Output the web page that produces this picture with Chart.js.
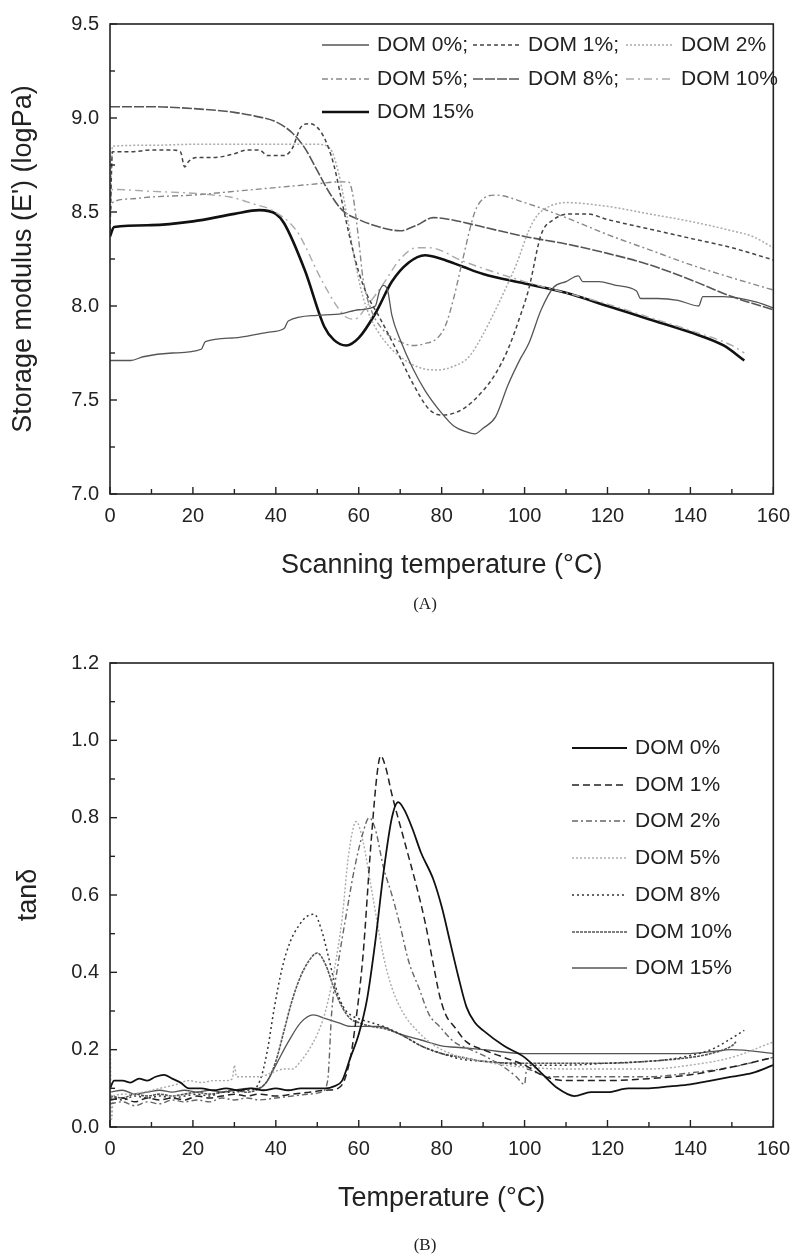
<!DOCTYPE html>
<html>
<head>
<meta charset="utf-8">
<script src="https://cdn.jsdelivr.net/npm/chart.js@4.4.0/dist/chart.umd.min.js"></script>
<style>
  body { margin: 0; background: #fff; width: 800px; height: 1258px; position: relative; overflow: hidden; }
  .box { position: absolute; left: 0; width: 800px; }
  .cap { position: absolute; width: 800px; text-align: center; font-family: "Liberation Serif", "Times New Roman", serif; font-size: 17px; color: #222; }
</style>
</head>
<body>
<div class="box" style="top:0;height:640px"><canvas id="chartA" width="800" height="640"></canvas></div>
<div class="cap" style="top:594px;left:25px">(A)</div>
<div class="box" style="top:640px;height:618px"><canvas id="chartB" width="800" height="618"></canvas></div>
<div class="cap" style="top:1235px;left:25px">(B)</div>
<script>
// ---- (A) storage modulus E' (logPa), pairs of [temperature, value] ----
const eDom0 = [[0,7.71],[5,7.71],[8,7.73],[15,7.75],[22,7.77],[23,7.81],[30,7.83],[38,7.86],[42,7.88],[43,7.92],[50,7.95],[56,7.96],[60,7.98],[64,8.00],[65,8.08],[66,8.11],[67,8.08],[68,7.95],[70,7.82],[73,7.67],[76,7.55],[80,7.43],[83,7.36],[86,7.33],[88,7.32],[90,7.35],[93,7.41],[96,7.58],[99,7.72],[101,7.80],[104,7.98],[107,8.10],[110,8.13],[113,8.16],[114,8.13],[118,8.13],[122,8.11],[127,8.08],[128,8.04],[132,8.04],[137,8.03],[142,8.00],[143,8.05],[148,8.05],[152,8.04],[156,8.02],[160,7.99]];
const eDom1 = [[0,8.40],[0.6,8.82],[5,8.82],[10,8.83],[15,8.83],[17,8.82],[18,8.74],[19,8.77],[21,8.79],[25,8.79],[30,8.81],[33,8.83],[36,8.83],[38,8.80],[42,8.80],[44,8.84],[46,8.95],[48,8.97],[50,8.95],[52,8.88],[54,8.75],[56,8.55],[58,8.35],[60,8.18],[62,8.06],[65,7.94],[69,7.77],[73,7.59],[77,7.45],[80,7.42],[85,7.45],[90,7.55],[93,7.64],[96,7.77],[99,7.95],[101,8.09],[104,8.38],[107,8.46],[111,8.49],[115,8.49],[120,8.46],[130,8.41],[140,8.36],[150,8.31],[160,8.245]];
const eDom2 = [[0,8.45],[0.6,8.85],[10,8.855],[20,8.86],[30,8.86],[40,8.86],[50,8.86],[53,8.84],[55,8.72],[57,8.50],[59,8.25],[61,8.05],[63,7.93],[66,7.82],[70,7.73],[75,7.67],[79,7.66],[83,7.68],[86.6,7.73],[90,7.85],[93,7.98],[96,8.12],[98,8.22],[101,8.40],[103,8.48],[106,8.53],[110,8.55],[120,8.53],[130,8.49],[140,8.45],[150,8.40],[155,8.37],[160,8.31]];
const eDom5 = [[0,8.50],[0.6,8.55],[5,8.57],[10,8.58],[20,8.59],[30,8.61],[40,8.63],[50,8.65],[55,8.66],[57.5,8.66],[58.5,8.60],[60,8.35],[61,8.15],[63,7.98],[66,7.87],[70,7.81],[73,7.79],[76,7.80],[79,7.83],[81,7.90],[83,8.05],[85,8.24],[88,8.50],[90,8.57],[93,8.59],[100,8.55],[110,8.47],[120,8.38],[130,8.30],[140,8.22],[150,8.15],[160,8.085]];
const eDom8 = [[0,9.06],[10,9.06],[20,9.05],[30,9.03],[35,9.01],[40,8.98],[44,8.92],[47,8.84],[50,8.72],[53,8.60],[56,8.51],[60,8.46],[65,8.42],[70,8.40],[74,8.43],[78,8.47],[82,8.46],[90,8.42],[100,8.37],[110,8.33],[120,8.28],[130,8.22],[140,8.14],[150,8.05],[160,7.98]];
const eDom10 = [[0,8.55],[0.6,8.62],[10,8.61],[20,8.60],[25,8.59],[29,8.58],[35,8.54],[39,8.51],[45,8.40],[51,8.14],[55,7.99],[57,7.94],[59,7.93],[62,8.00],[66,8.12],[70,8.25],[74,8.31],[77,8.31],[85,8.24],[90,8.20],[100,8.13],[110,8.07],[120,8.01],[130,7.94],[140,7.87],[150,7.79],[153,7.75]];
const eDom15 = [[0,8.37],[1,8.42],[10,8.43],[20,8.45],[30,8.49],[36,8.51],[40,8.49],[42,8.44],[47,8.19],[51.7,7.89],[54,7.82],[57,7.79],[60,7.83],[64,7.96],[68,8.13],[72,8.23],[76,8.27],[80,8.25],[85,8.21],[90,8.17],[100,8.12],[110,8.07],[120,8.00],[130,7.93],[140,7.86],[148,7.79],[153,7.71]];

// ---- (B) tan delta, pairs of [temperature, value] ----
const tDom0 = [[0,0.10],[1,0.12],[3,0.12],[5,0.115],[7,0.125],[9,0.12],[11,0.13],[13,0.135],[15,0.125],[17,0.115],[19,0.10],[22,0.10],[25,0.095],[28,0.10],[31,0.095],[34,0.10],[37,0.095],[40,0.10],[43,0.095],[46,0.10],[49,0.10],[52,0.10],[54,0.105],[56,0.12],[58,0.18],[60,0.24],[62,0.33],[64,0.48],[66,0.66],[68,0.80],[69.5,0.84],[71,0.82],[73,0.77],[75,0.71],[78,0.64],[80,0.57],[82,0.48],[84,0.39],[86,0.31],[88,0.27],[90,0.25],[95,0.21],[100,0.18],[104,0.14],[108,0.10],[112,0.08],[116,0.09],[120,0.09],[125,0.10],[130,0.10],[135,0.105],[140,0.11],[145,0.12],[150,0.13],[155,0.14],[160,0.16]];
const tDom1 = [[0,0.07],[3,0.075],[6,0.065],[9,0.075],[12,0.07],[15,0.075],[18,0.07],[21,0.08],[24,0.075],[27,0.08],[30,0.085],[33,0.08],[36,0.085],[40,0.08],[44,0.085],[48,0.09],[52,0.095],[55,0.10],[56.5,0.12],[58,0.18],[59,0.25],[61,0.44],[63,0.74],[64.5,0.92],[65.3,0.96],[66.5,0.93],[68,0.86],[71,0.74],[74,0.62],[76,0.53],[78,0.42],[79.5,0.34],[81,0.29],[83,0.26],[86,0.22],[90,0.20],[95,0.18],[100,0.16],[105,0.13],[110,0.12],[120,0.12],[130,0.125],[140,0.135],[150,0.155],[160,0.18]];
const tDom2 = [[0,0.06],[3,0.065],[6,0.055],[9,0.065],[12,0.06],[15,0.07],[18,0.065],[21,0.07],[24,0.065],[27,0.075],[30,0.07],[33,0.075],[36,0.07],[40,0.075],[44,0.08],[48,0.085],[51,0.09],[52.5,0.12],[53.5,0.30],[55,0.42],[57,0.55],[59,0.67],[61,0.76],[62.5,0.80],[64,0.77],[66,0.67],[68,0.60],[70,0.52],[72,0.43],[74.5,0.36],[77,0.29],[79.5,0.26],[83,0.22],[87,0.20],[91,0.18],[95,0.155],[98,0.13],[100,0.11],[100.5,0.15],[103,0.14],[106,0.13],[110,0.13],[120,0.13],[130,0.13],[140,0.14],[150,0.155],[160,0.18]];
const tDom5 = [[0,0.25],[0.4,0.02],[0.8,0.08],[4,0.085],[8,0.09],[12,0.10],[16,0.11],[19,0.12],[22,0.115],[25,0.12],[28,0.12],[29.5,0.125],[30,0.16],[30.5,0.13],[33,0.13],[36,0.13],[39,0.14],[42,0.15],[44,0.15],[46,0.17],[48,0.20],[50,0.24],[52,0.30],[54,0.40],[56,0.54],[57.5,0.70],[59.4,0.79],[61,0.74],[63,0.62],[66,0.44],[68,0.36],[71,0.29],[74,0.25],[77,0.22],[80,0.20],[85,0.18],[90,0.17],[95,0.16],[100,0.155],[110,0.15],[120,0.15],[130,0.15],[140,0.16],[150,0.18],[160,0.22]];
const tDom8 = [[0,0.075],[3,0.07],[6,0.08],[9,0.075],[12,0.08],[15,0.075],[18,0.08],[21,0.085],[24,0.08],[27,0.09],[30,0.09],[33,0.095],[35,0.10],[36.5,0.13],[38,0.20],[39.5,0.30],[41.5,0.41],[43.5,0.48],[45.5,0.52],[47.5,0.545],[49.3,0.55],[51,0.51],[52.7,0.44],[54.5,0.36],[56.3,0.31],[58,0.29],[60,0.28],[63,0.27],[66,0.26],[70,0.24],[75,0.21],[80,0.19],[85,0.175],[90,0.17],[95,0.165],[100,0.16],[110,0.16],[120,0.165],[130,0.17],[135,0.175],[140,0.185],[145,0.20],[150,0.23],[153,0.25]];
const tDom10 = [[0,0.08],[3,0.075],[6,0.085],[9,0.08],[12,0.085],[15,0.08],[18,0.085],[21,0.09],[24,0.085],[27,0.09],[30,0.095],[33,0.09],[36,0.10],[38,0.12],[40,0.17],[42,0.25],[44,0.33],[46,0.39],[48,0.43],[50,0.45],[52,0.42],[54,0.36],[56,0.31],[58,0.28],[60,0.27],[63,0.26],[66,0.255],[70,0.24],[75,0.21],[80,0.19],[85,0.18],[90,0.17],[100,0.165],[110,0.165],[120,0.165],[130,0.17],[140,0.18],[145,0.19],[150,0.21],[151,0.22]];
const tDom15 = [[0,0.09],[3,0.095],[6,0.085],[9,0.09],[12,0.095],[15,0.09],[18,0.095],[21,0.09],[24,0.095],[27,0.09],[30,0.095],[33,0.10],[36,0.10],[38,0.12],[40,0.16],[43,0.22],[46,0.27],[49,0.29],[52,0.28],[55,0.27],[58,0.26],[62,0.26],[65,0.26],[70,0.24],[75,0.225],[80,0.21],[85,0.205],[90,0.20],[100,0.19],[110,0.19],[120,0.19],[130,0.19],[140,0.19],[145,0.195],[150,0.20],[160,0.19]];

// labels and tick marks
const labelsA = ["DOM 0%;", "DOM 1%;", "DOM 2%", "DOM 5%;", "DOM 8%;", "DOM 10%", "DOM 15%"];
const labelsB = ["DOM 0%", "DOM 1%", "DOM 2%", "DOM 5%", "DOM 8%", "DOM 10%", "DOM 15%"];
const tempTicks = [0, 20, 40, 60, 80, 100, 120, 140, 160];
const modulusTicks = [7.0, 7.5, 8.0, 8.5, 9.0, 9.5];
const tanTicks = [0.0, 0.2, 0.4, 0.6, 0.8, 1.0, 1.2];

const FONT = "'Liberation Sans', Arial, sans-serif";
const toPts = arr => arr.map(p => ({ x: p[0], y: p[1] }));
const hasTick = (list, v) => list.some(t => Math.abs(t - v) < 1e-6);

// box round the plot plus short inward ticks on bottom and left
const framePlugin = {
  id: "frame",
  afterDraw(chart) {
    const { ctx, chartArea: a, scales } = chart;
    ctx.save();
    ctx.strokeStyle = "#222";
    ctx.lineWidth = 1.6;
    ctx.setLineDash([]);
    ctx.strokeRect(a.left, a.top, a.right - a.left, a.bottom - a.top);
    ctx.lineWidth = 1.4;
    scales.x.ticks.forEach(t => {
      const px = scales.x.getPixelForValue(t.value);
      const len = t.label !== "" ? 7 : 5;
      ctx.beginPath(); ctx.moveTo(px, a.bottom); ctx.lineTo(px, a.bottom - len); ctx.stroke();
    });
    scales.y.ticks.forEach(t => {
      const py = scales.y.getPixelForValue(t.value);
      const len = t.label !== "" ? 7 : 5;
      ctx.beginPath(); ctx.moveTo(a.left, py); ctx.lineTo(a.left + len, py); ctx.stroke();
    });
    ctx.restore();
  }
};

// legend drawn from the datasets' own styles
const legendPlugin = {
  id: "dmaLegend",
  afterDraw(chart, args, opts) {
    const ctx = chart.ctx;
    ctx.save();
    ctx.font = "21px " + FONT;
    ctx.fillStyle = "#222";
    ctx.textBaseline = "middle";
    chart.data.datasets.forEach((ds, i) => {
      const [x, y] = opts.pos[i];
      ctx.strokeStyle = ds.borderColor;
      ctx.lineWidth = ds.borderWidth;
      ctx.setLineDash(ds.borderDash || []);
      ctx.beginPath(); ctx.moveTo(x, y); ctx.lineTo(x + opts.sample, y); ctx.stroke();
      ctx.setLineDash([]);
      ctx.fillText(ds.label, x + opts.sample + 8, y);
    });
    ctx.restore();
  }
};

function makeOptions(cfg) {
  return {
    responsive: false,
    animation: false,
    devicePixelRatio: 1,
    layout: { padding: { top: cfg.padTop, right: 19, bottom: cfg.padBottom, left: 0 } },
    elements: { point: { radius: 0 }, line: { cubicInterpolationMode: "monotone" } },
    plugins: {
      legend: { display: false },
      tooltip: { enabled: false },
      dmaLegend: { pos: cfg.legendPos, sample: cfg.sample }
    },
    scales: {
      x: {
        type: "linear", min: 0, max: 160,
        afterBuildTicks: s => { s.ticks = []; for (let v = 0; v <= 160; v += 10) s.ticks.push({ value: v }); },
        afterFit: s => { s.height = 88; },
        grid: { display: false, drawTicks: false },
        border: { display: false },
        ticks: { autoSkip: false, maxRotation: 0, padding: 10, color: "#222", font: { family: FONT, size: 20 },
          callback: v => hasTick(tempTicks, v) ? String(v) : "" },
        title: { display: true, text: cfg.xTitle, color: "#222", font: { family: FONT, size: 27 }, padding: 0 }
      },
      y: {
        type: "linear", min: cfg.yMin, max: cfg.yMax,
        afterBuildTicks: s => { s.ticks = []; for (let k = 0; k <= cfg.nMinor; k++) s.ticks.push({ value: cfg.yMin + k * cfg.yStep }); },
        afterFit: s => { s.width = 110; },
        grid: { display: false, drawTicks: false },
        border: { display: false },
        ticks: { autoSkip: false, padding: 11, color: "#222", font: { family: FONT, size: 20 },
          callback: v => hasTick(cfg.yTicks, v) ? v.toFixed(1) : "" },
        title: { display: true, text: cfg.yTitle, color: "#222", font: { family: FONT, size: 27 }, padding: { top: cfg.yTitlePad, bottom: 0 } }
      }
    }
  };
}

function series(label, data, color, width, dash) {
  return { label: label, data: toPts(data), borderColor: color, borderWidth: width, borderDash: dash, fill: false };
}

new Chart(document.getElementById("chartA"), {
  type: "line",
  data: {
    datasets: [
      series(labelsA[0], eDom0, "#555", 1.3, []),
      series(labelsA[1], eDom1, "#444", 1.5, [4, 3]),
      series(labelsA[2], eDom2, "#aaa", 1.5, [2, 2]),
      series(labelsA[3], eDom5, "#888", 1.4, [6, 3, 2, 3]),
      series(labelsA[4], eDom8, "#555", 1.6, [10, 2]),
      series(labelsA[5], eDom10, "#aaa", 1.4, [8, 4, 2, 4]),
      series(labelsA[6], eDom15, "#111", 2.6, [])
    ]
  },
  options: makeOptions({
    padTop: 24, padBottom: 58,
    yMin: 7, yMax: 9.5, yStep: 0.25, nMinor: 10, yTicks: modulusTicks,
    xTitle: "Scanning temperature (°C)", yTitle: "Storage modulus (E') (logPa)", yTitlePad: 7,
    legendPos: [[322, 45], [473, 45], [626, 45], [322, 79], [473, 79], [626, 79], [322, 112]], sample: 47
  }),
  plugins: [framePlugin, legendPlugin]
});

new Chart(document.getElementById("chartB"), {
  type: "line",
  data: {
    datasets: [
      series(labelsB[0], tDom0, "#111", 1.8, []),
      series(labelsB[1], tDom1, "#222", 1.5, [7, 4]),
      series(labelsB[2], tDom2, "#666", 1.4, [6, 3, 2, 3]),
      series(labelsB[3], tDom5, "#aaa", 1.4, [2, 2]),
      series(labelsB[4], tDom8, "#333", 1.5, [2, 3]),
      series(labelsB[5], tDom10, "#555", 1.6, [3, 1]),
      series(labelsB[6], tDom15, "#555", 1.3, [])
    ]
  },
  options: makeOptions({
    padTop: 20, padBottom: 43,
    yMin: 0, yMax: 1.2, yStep: 0.1, nMinor: 12, yTicks: tanTicks,
    xTitle: "Temperature (°C)", yTitle: "tanδ", yTitlePad: 12,
    legendPos: [[572, 108], [572, 145], [572, 181], [572, 218], [572, 255], [572, 292], [572, 328]], sample: 55
  }),
  plugins: [framePlugin, legendPlugin]
});
</script>
</body>
</html>
